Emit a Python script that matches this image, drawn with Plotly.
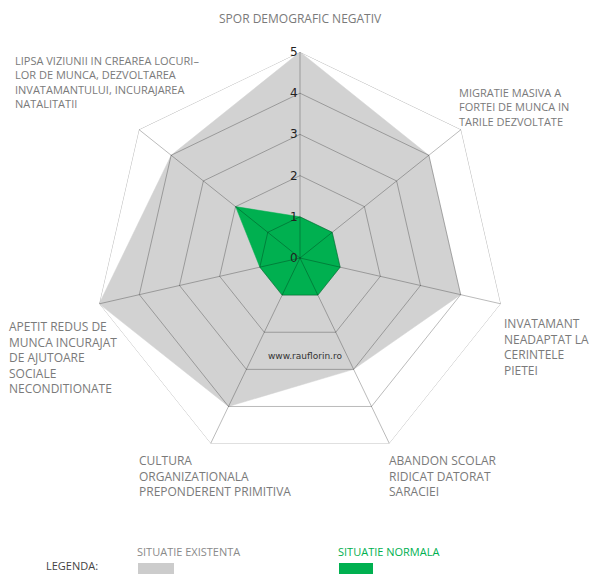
import plotly.graph_objects as go

categories = [
    "SPOR DEMOGRAFIC NEGATIV",
    "MIGRATIE MASIVA A FORTEI DE MUNCA IN TARILE DEZVOLTATE",
    "INVATAMANT NEADAPTAT LA CERINTELE PIETEI",
    "ABANDON SCOLAR RIDICAT DATORAT SARACIEI",
    "CULTURA ORGANIZATIONALA PREPONDERENT PRIMITIVA",
    "APETIT REDUS DE MUNCA INCURAJAT DE AJUTOARE SOCIALE NECONDITIONATE",
    "LIPSA VIZIUNII IN CREAREA LOCURILOR DE MUNCA",
]
existenta = [5, 4, 4, 3, 4, 5, 4]
normala = [1, 1, 1, 1, 1, 1, 2]
radial_ticks = [0, 1, 2, 3, 4, 5]

GREY = "#d2d2d2"
GREEN = "#00b050"
TXT = "#7a7a7a"
FONT = "Open Sans"
GRID = "rgba(0,0,0,0.27)"

theta = categories + [categories[0]]
fig = go.Figure()
fig.add_trace(go.Scatterpolar(r=existenta + [existenta[0]], theta=theta, fill="toself",
                              fillcolor=GREY, line=dict(color=GREY, width=0.5), mode="lines",
                              name="SITUATIE EXISTENTA", hoverinfo="skip"))
fig.add_trace(go.Scatterpolar(r=normala + [normala[0]], theta=theta, fill="toself",
                              fillcolor=GREEN, line=dict(color=GREEN, width=0.5), mode="lines",
                              name="SITUATIE NORMALA", hoverinfo="skip"))

# grid drawn above the filled areas (as in the reference)
for t in radial_ticks[1:]:
    fig.add_trace(go.Scatterpolar(r=[t] * len(theta), theta=theta, mode="lines",
                                  line=dict(color=GRID, width=1), hoverinfo="skip", showlegend=False))
for c in categories:
    fig.add_trace(go.Scatterpolar(r=[0, radial_ticks[-1]], theta=[c, c], mode="lines",
                                  line=dict(color=GRID, width=1), hoverinfo="skip", showlegend=False))

W, H = 595, 574
cx, cy, R = 300, 258, 206
fig.update_layout(
    width=W, height=H, margin=dict(l=0, r=0, t=0, b=0),
    paper_bgcolor="white", plot_bgcolor="white", showlegend=False,
    polar=dict(
        bgcolor="rgba(0,0,0,0)",
        gridshape="linear",
        domain=dict(x=[(cx - R) / W, (cx + R) / W], y=[(H - cy - R) / H, (H - cy + R) / H]),
        radialaxis=dict(range=[0, 5], tickvals=radial_ticks, showline=False, showgrid=False,
                        angle=90, tickangle=90, side="counterclockwise", ticksuffix=" ",
                        tickfont=dict(family="DejaVu Sans", size=12, color="#222"),
                        ticks="", layer="above traces"),
        angularaxis=dict(direction="clockwise", rotation=90, showticklabels=False,
                         ticks="", showgrid=False, showline=False),
    ),
)

def ann(text, x, y, align="left", xanchor="left", color=TXT, size=12, family=FONT, yanchor="top"):
    fig.add_annotation(text=text, x=x / W, y=1 - y / H, xref="paper", yref="paper",
                       xanchor=xanchor, yanchor=yanchor, align=align, showarrow=False,
                       font=dict(family=family, size=size, color=color))

ann("SPOR DEMOGRAFIC NEGATIV", 300, 8, align="center", xanchor="center")
ann("LIPSA VIZIUNII IN CREAREA LOCURI–<br>LOR DE MUNCA, DEZVOLTAREA<br>INVATAMANTULUI, INCURAJAREA<br>NATALITATII", 13, 51, size=11)
ann("MIGRATIE MASIVA A<br>FORTEI DE MUNCA IN<br>TARILE DEZVOLTATE", 457, 83, size=11)
ann("INVATAMANT<br>NEADAPTAT LA<br>CERINTELE<br>PIETEI", 502, 313)
ann("ABANDON SCOLAR<br>RIDICAT DATORAT<br>SARACIEI", 387, 450)
ann("CULTURA<br>ORGANIZATIONALA<br>PREPONDERENT PRIMITIVA", 137, 450)
ann("APETIT REDUS DE<br>MUNCA INCURAJAT<br>DE AJUTOARE<br>SOCIALE<br>NECONDITIONATE", 7, 316)
ann("www.rauflorin.ro", 305, 349, align="center", xanchor="center", color="#333", size=9, family="DejaVu Sans")
ann("LEGENDA:", 44, 575, color="#444", size=11, yanchor="bottom")
ann("SITUATIE EXISTENTA", 135, 542, color="#8a8a8a", size=11)
ann("SITUATIE NORMALA", 336, 542, color=GREEN, size=11)

fig.add_shape(type="rect", xref="paper", yref="paper", x0=138 / W, x1=174 / W,
              y0=1 - 574 / H, y1=1 - 563 / H, fillcolor="#cccccc", line_width=0)
fig.add_shape(type="rect", xref="paper", yref="paper", x0=339 / W, x1=373 / W,
              y0=1 - 574 / H, y1=1 - 563 / H, fillcolor=GREEN, line_width=0)

fig.write_html("out.html")
